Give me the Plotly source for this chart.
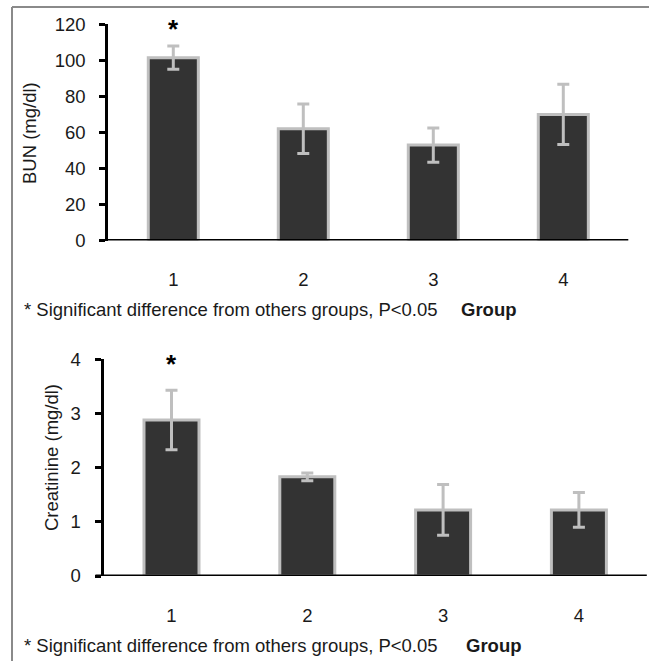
import plotly.graph_objects as go

groups = [1, 2, 3, 4]
group_labels = ["1", "2", "3", "4"]
bun_mean = [101.5, 62, 53, 70]
bun_err = [6.5, 13.7, 9.5, 16.7]
creat_mean = [2.88, 1.83, 1.22, 1.22]
creat_err = [0.55, 0.07, 0.47, 0.32]
bun_ticks = [0, 20, 40, 60, 80, 100, 120]
creat_ticks = [0, 1, 2, 3, 4]
footnote = "* Significant difference from others groups, P<0.05"

W, H = 649, 661
FONT = "Liberation Sans, Arial, sans-serif"
BAR_FILL = "#333333"
BAR_EDGE = "#bfbfbf"
ERR_COL = "#bfbfbf"
TXT = "#1a1a1a"
FS = 18.5

def px(x):
    return x / W

def py(y):
    return 1 - y / H

fig = go.Figure()

fig.add_trace(go.Bar(
    x=groups, y=bun_mean, width=0.385,
    marker=dict(color=BAR_FILL, line=dict(color=BAR_EDGE, width=3)),
    error_y=dict(type="data", array=bun_err, color=ERR_COL, thickness=3, width=6),
    xaxis="x", yaxis="y", showlegend=False, hoverinfo="skip",
))
fig.add_trace(go.Bar(
    x=groups, y=creat_mean, width=0.405,
    marker=dict(color=BAR_FILL, line=dict(color=BAR_EDGE, width=3)),
    error_y=dict(type="data", array=creat_err, color=ERR_COL, thickness=3, width=6),
    xaxis="x2", yaxis="y2", showlegend=False, hoverinfo="skip",
))

xcommon = dict(range=[0.5, 4.5], tickvals=groups, ticktext=group_labels,
               showline=False, showgrid=False, zeroline=False, ticks="",
               automargin=False, fixedrange=True,
               ticklabelstandoff=26, tickfont=dict(family=FONT, size=FS, color=TXT))
ycommon = dict(showline=True, linecolor="black", linewidth=3, showgrid=False,
               zeroline=False, ticks="outside", ticklen=6, tickwidth=3,
               tickcolor="black", ticklabelstandoff=10, automargin=False, fixedrange=True,
               tickfont=dict(family=FONT, size=FS, color=TXT))

fig.update_layout(
    width=W, height=H, autosize=False,
    margin=dict(l=0, r=0, t=0, b=0, pad=0, autoexpand=False),
    paper_bgcolor="white", plot_bgcolor="rgba(0,0,0,0)",
    xaxis=dict(domain=[px(108.3), px(628.3)], anchor="y", **xcommon),
    yaxis=dict(domain=[py(240.5), py(24.3)], anchor="x", range=[0, 120],
               tickvals=bun_ticks, **ycommon),
    xaxis2=dict(domain=[px(103.6), px(646.8)], anchor="y2", **xcommon),
    yaxis2=dict(domain=[py(576), py(359.3)], anchor="x2", range=[0, 4],
                tickvals=creat_ticks, **ycommon),
    bargap=0.5,
)

# x axis lines (extend slightly left past the y axis as in the reference)
fig.add_shape(type="line", xref="x domain", yref="y", x0=-0.014, x1=1, y0=0, y1=0,
              line=dict(color="black", width=3))
fig.add_shape(type="line", xref="x2 domain", yref="y2", x0=-0.015, x1=1, y0=0, y1=0,
              line=dict(color="black", width=3))

# frame (top and left)
fig.add_shape(type="line", xref="paper", yref="paper", x0=px(12), x1=1, y0=py(7), y1=py(7),
              line=dict(color="#8a8a8a", width=2))
fig.add_shape(type="line", xref="paper", yref="paper", x0=px(12), x1=px(12), y0=py(7), y1=0,
              line=dict(color="#8a8a8a", width=2))

ann = []
# y titles
ann.append(dict(text="BUN (mg/dl)", xref="paper", yref="paper", x=px(30), y=py(133),
                textangle=-90, showarrow=False, xanchor="center", yanchor="middle",
                font=dict(family=FONT, size=FS, color=TXT)))
ann.append(dict(text="Creatinine (mg/dl)", xref="paper", yref="paper", x=px(51), y=py(458),
                textangle=-90, showarrow=False, xanchor="center", yanchor="middle",
                font=dict(family=FONT, size=FS, color=TXT)))
# significance stars
ann.append(dict(text="<b>*</b>", xref="x", yref="y", x=groups[0], y=bun_ticks[-1],
                showarrow=False, yanchor="middle", yshift=-5,
                font=dict(family=FONT, size=26, color="black")))
ann.append(dict(text="<b>*</b>", xref="x2", yref="y2", x=groups[0], y=creat_ticks[-1],
                showarrow=False, yanchor="middle", yshift=-5,
                font=dict(family=FONT, size=26, color="black")))
# footnotes and Group titles
for yc in (310, 645):
    ann.append(dict(text=footnote, xref="paper", yref="paper", x=px(22), y=py(yc),
                    showarrow=False, xanchor="left", yanchor="middle",
                    font=dict(family=FONT, size=FS, color=TXT)))
ann.append(dict(text="<b>Group</b>", xref="paper", yref="paper", x=px(459), y=py(310),
                showarrow=False, xanchor="left", yanchor="middle",
                font=dict(family=FONT, size=FS, color=TXT)))
ann.append(dict(text="<b>Group</b>", xref="paper", yref="paper", x=px(464), y=py(645),
                showarrow=False, xanchor="left", yanchor="middle",
                font=dict(family=FONT, size=FS, color=TXT)))
fig.update_layout(annotations=ann)

fig.write_html("out.html", config={"displayModeBar": False, "staticPlot": True},
               post_script="document.body.style.margin='0';document.body.style.overflow='hidden';")
